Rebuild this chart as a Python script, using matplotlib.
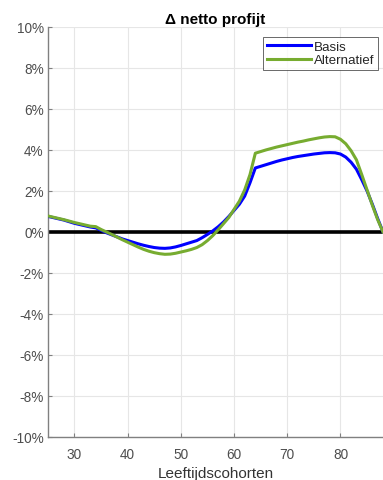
import matplotlib
matplotlib.use("Agg")
import matplotlib.pyplot as plt
from matplotlib.ticker import FuncFormatter

ages = list(range(25, 89))
basis = [0.76, 0.70, 0.64, 0.58, 0.50, 0.42, 0.36, 0.30, 0.24, 0.20,
         0.08, -0.04, -0.14, -0.24, -0.34, -0.42, -0.50, -0.58, -0.65, -0.71,
         -0.76, -0.79, -0.80, -0.78, -0.73, -0.66, -0.58, -0.50, -0.42, -0.28,
         -0.12, 0.05, 0.25, 0.48, 0.75, 1.05, 1.35, 1.75, 2.40, 3.12,
         3.20, 3.28, 3.36, 3.44, 3.51, 3.57, 3.63, 3.68, 3.72, 3.76,
         3.80, 3.83, 3.86, 3.87, 3.86, 3.80, 3.65, 3.40, 3.06, 2.55,
         2.00, 1.35, 0.65, 0.0]
alternatief = [0.78, 0.72, 0.66, 0.60, 0.53, 0.46, 0.40, 0.34, 0.28, 0.26,
               0.12, 0.00, -0.12, -0.25, -0.38, -0.50, -0.62, -0.74, -0.85, -0.94,
               -1.01, -1.06, -1.09, -1.08, -1.04, -0.98, -0.92, -0.85, -0.76, -0.62,
               -0.42, -0.18, 0.10, 0.40, 0.70, 1.10, 1.50, 2.05, 2.80, 3.84,
               3.92, 4.00, 4.07, 4.14, 4.20, 4.26, 4.32, 4.38, 4.43, 4.49,
               4.54, 4.59, 4.63, 4.65, 4.64, 4.52, 4.30, 3.96, 3.52, 2.80,
               2.05, 1.30, 0.60, 0.0]
series_names = ["Basis", "Alternatief"]
title = "\u0394 netto profijt"
xlabel = "Leeftijdscohorten"
xticks = [30, 40, 50, 60, 70, 80]
yticks = list(range(-10, 11, 2))

plt.rcParams['font.family'] = ['Liberation Sans', 'DejaVu Sans']

fig = plt.figure(figsize=(3.83, 4.81), dpi=100)
ax = fig.add_axes([0.125, 0.0894, 0.875, 0.8526])

ax.axhline(0, color='black', lw=2.6, zorder=2)
ax.plot(ages, basis, color='#0000FF', lw=2.2, label=series_names[0], zorder=3)
ax.plot(ages, alternatief, color='#77AC30', lw=2.2, label=series_names[1], zorder=4)

ax.set_xlim(25, 88)
ax.set_ylim(-10, 10)
ax.set_xticks(xticks)
ax.set_yticks(yticks)
ax.yaxis.set_major_formatter(FuncFormatter(lambda v, p: f"{int(round(v))}%"))
ax.grid(True, color='#E6E6E6', lw=0.8)
ax.set_axisbelow(True)

for s in ['top', 'right']:
    ax.spines[s].set_visible(False)
for s in ['left', 'bottom']:
    ax.spines[s].set_color('#808080')
    ax.spines[s].set_linewidth(1.0)
ax.tick_params(direction='in', length=3, color='#808080', labelcolor='#4D4D4D',
               labelsize=9.8, width=0.8)
ax.tick_params(axis='x', pad=7)
ax.tick_params(axis='y', pad=3)

ax.set_title(title, fontsize=11, fontweight='bold', color='black', pad=3)
ax.set_xlabel(xlabel, fontsize=11, color='#333333', labelpad=4)

leg = ax.legend(loc='upper right', bbox_to_anchor=(0.985, 0.975), fontsize=9.6,
                frameon=True, fancybox=False, handlelength=3.3, handletextpad=0.25,
                borderpad=0.25, labelspacing=0.1, borderaxespad=0)
leg.get_frame().set_edgecolor('#262626')
leg.get_frame().set_linewidth(0.6)
for t in leg.get_texts():
    t.set_color('#262626')

fig.savefig('out.png', dpi=100)
